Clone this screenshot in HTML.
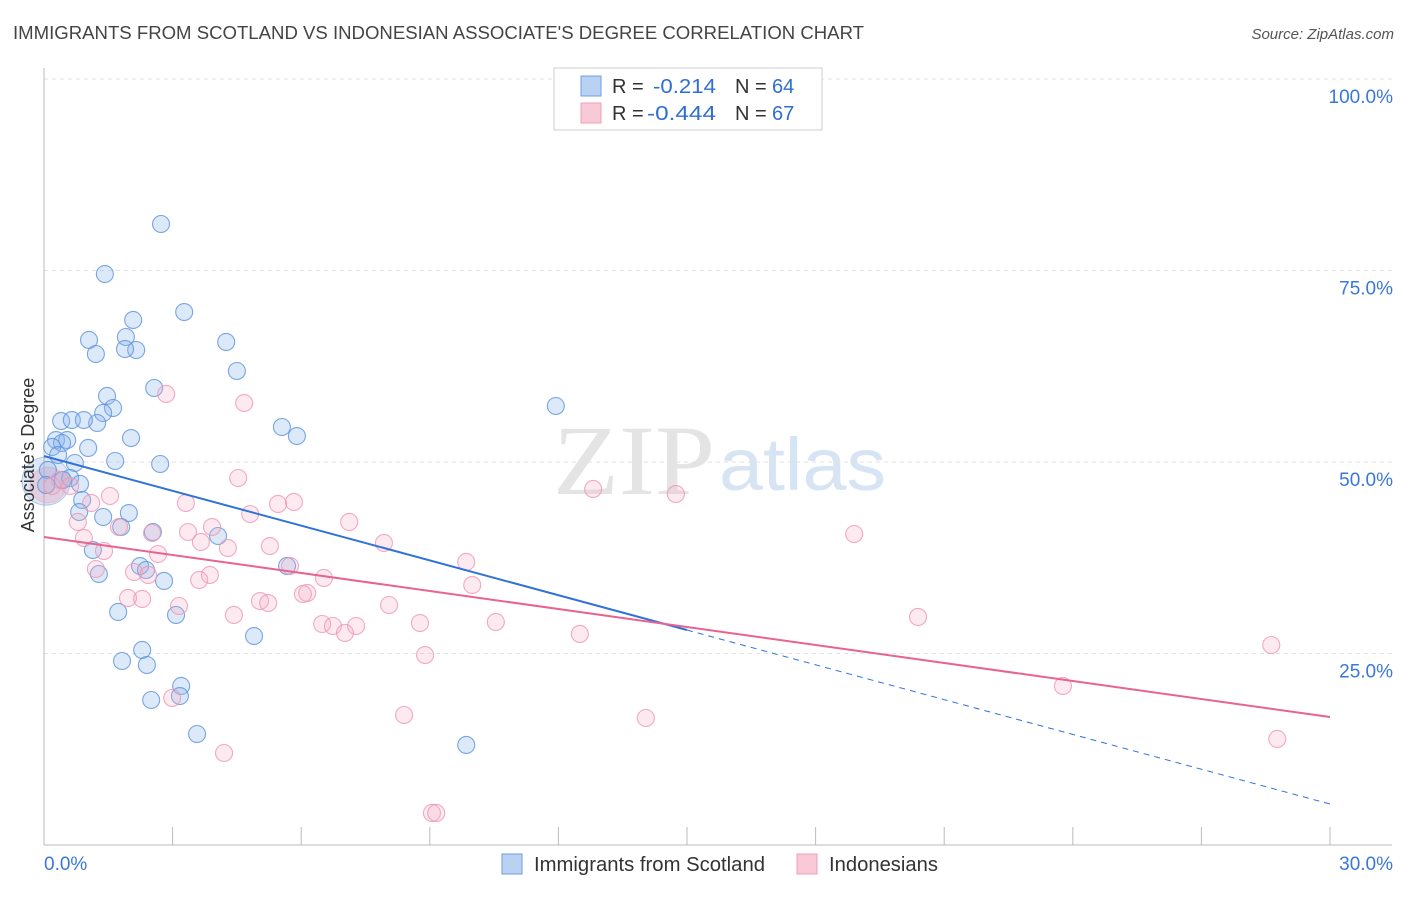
<!DOCTYPE html>
<html><head><meta charset="utf-8"><style>
body{margin:0;background:#fff;font-family:"Liberation Sans",sans-serif;}
</style></head><body>
<svg id="chart" width="1406" height="892" xmlns="http://www.w3.org/2000/svg" font-family="Liberation Sans, sans-serif">
<text x="13" y="39" font-size="18" fill="#444" textLength="851" lengthAdjust="spacingAndGlyphs">IMMIGRANTS FROM SCOTLAND VS INDONESIAN ASSOCIATE'S DEGREE CORRELATION CHART</text>
<text x="1394" y="39" font-size="15" fill="#555" font-style="italic" text-anchor="end">Source: ZipAtlas.com</text>
<text x="553" y="494" font-size="100" font-family="Liberation Serif, serif" fill="#e4e4e4" textLength="162" lengthAdjust="spacingAndGlyphs">ZIP</text>
<text x="719" y="490" font-size="74" fill="#d6e4f4" textLength="167" lengthAdjust="spacingAndGlyphs">atlas</text>
<g id="grid"></g>
<g id="axes"></g>
<g id="marks"></g>
<g id="lines"></g>
<text transform="translate(34,455) rotate(-90)" font-size="18" fill="#333" text-anchor="middle">Associate's Degree</text>
<g>
<rect x="554" y="68" width="268" height="62" fill="#fff" stroke="#ccc"/>
<rect x="581" y="76" width="20" height="20" fill="#b9d1f3" stroke="#6fa0e0"/>
<rect x="581" y="103" width="20" height="20" fill="#f8c9d7" stroke="#f0a0b8"/>
<text x="612" y="93" font-size="20" fill="#333">R =</text>
<text x="653" y="93" font-size="20" fill="#2f6fd1" textLength="63" lengthAdjust="spacingAndGlyphs">-0.214</text>
<text x="735" y="93" font-size="20" fill="#333">N =</text>
<text x="772" y="93" font-size="20" fill="#2f6fd1">64</text>
<text x="612" y="120" font-size="20" fill="#333">R =</text>
<text x="647" y="120" font-size="20" fill="#2f6fd1" textLength="69" lengthAdjust="spacingAndGlyphs">-0.444</text>
<text x="735" y="120" font-size="20" fill="#333">N =</text>
<text x="772" y="120" font-size="20" fill="#2f6fd1">67</text>
</g>
<g>
<rect x="502" y="854" width="20" height="20" fill="#b9d1f3" stroke="#6fa0e0"/>
<text x="534" y="871" font-size="20" fill="#333" textLength="231" lengthAdjust="spacingAndGlyphs">Immigrants from Scotland</text>
<rect x="797" y="854" width="20" height="20" fill="#f8c9d7" stroke="#f0a0b8"/>
<text x="829" y="871" font-size="20" fill="#333" textLength="109" lengthAdjust="spacingAndGlyphs">Indonesians</text>
</g>
</svg>
<script>
const blueX=[2.73,1.42,3.27,2.08,1.05,1.91,1.21,2.15,1.89,4.25,4.50,2.57,1.47,1.61,1.38,1.24,0.40,0.65,0.93,5.55,5.90,2.03,0.28,0.54,0.42,0.19,1.03,0.33,1.66,0.72,2.71,11.94,0.61,0.84,0.44,0.89,0.82,1.38,1.98,2.54,4.06,1.80,1.14,5.67,2.24,2.38,2.80,1.28,1.73,3.08,4.90,2.29,1.82,2.40,3.20,3.17,2.50,3.57,9.85,0.09,0.05];
const blueY=[81.07,74.54,69.58,68.54,65.93,66.32,64.10,64.62,64.75,65.67,61.88,59.66,58.62,57.05,56.40,55.09,55.35,55.48,55.48,54.57,53.39,53.13,52.87,52.87,52.48,51.96,51.83,50.91,50.13,49.87,49.74,57.31,47.91,47.13,47.65,45.04,43.47,42.82,43.34,40.86,40.34,41.51,38.51,36.42,36.42,35.90,34.47,35.38,30.42,30.03,27.28,25.46,24.02,23.50,20.76,19.45,18.93,14.49,13.06,48.96,47.0];
const pinkX=[2.85,4.67,4.53,12.81,14.74,1.54,1.10,3.31,5.83,5.46,7.12,4.81,18.90,1.75,0.79,2.52,3.36,3.92,0.93,3.66,5.27,4.29,7.93,1.40,2.66,9.85,5.74,1.21,2.10,2.43,3.87,3.62,6.53,9.99,1.96,2.29,5.04,5.23,3.15,6.14,6.04,8.05,4.43,20.39,6.49,6.74,7.28,7.02,8.77,10.54,12.50,28.63,8.89,23.77,2.99,8.40,14.04,4.20,28.77,9.05,9.15,0.37,0.61,0.19];
const pinkY=[58.88,57.70,47.91,46.48,45.82,45.56,44.65,44.65,44.78,44.52,42.17,43.21,40.60,41.51,42.17,40.73,40.86,41.51,40.08,39.56,39.03,38.77,39.43,38.38,37.99,36.95,36.42,36.03,35.64,35.25,35.25,34.60,34.86,33.94,32.25,32.12,31.85,31.59,31.20,32.90,32.77,31.33,30.03,29.77,28.85,28.59,28.59,27.68,28.98,29.11,27.55,26.11,24.80,20.76,19.19,16.97,16.58,12.01,13.84,4.18,4.18,47.65,46.87,46.87];
const yTicks=[25,50,75,100];
const yTickLabels=["25.0%","50.0%","75.0%","100.0%"];
const xTickLabels=["0.0%","30.0%"];
const blueTrend=[50.78,5.35];
const blueSolidEnd=15;
const pinkTrend=[40.21,16.71];
const X0=44,X1=1330,Y0=845,Y1=79;
const sx=v=>X0+(v/30)*(X1-X0);
const sy=v=>Y0-(v/100)*(Y0-Y1);
const NS="http://www.w3.org/2000/svg";
function mk(parent,tag,attrs){const e=document.createElementNS(NS,tag);for(const k in attrs)e.setAttribute(k,attrs[k]);parent.appendChild(e);return e;}
const grid=document.getElementById('grid'),axes=document.getElementById('axes'),marks=document.getElementById('marks'),lines=document.getElementById('lines');
yTicks.forEach((t,i)=>{
  const l=mk(grid,'line',{x1:X0,x2:1392,y1:sy(t),y2:sy(t),stroke:'#e2e2e2','stroke-dasharray':'4,4'});
  
  
  const tx=mk(axes,'text',{x:1393,y:sy(t)+24,'font-size':19,fill:'#3a78d8','text-anchor':'end'});
  tx.textContent=yTickLabels[i];
  
  
});
const ya=mk(axes,'line',{x1:X0,x2:X0,y1:68,y2:Y0,stroke:'#bbb'});


const xa=mk(axes,'line',{x1:X0,x2:1392,y1:Y0,y2:Y0,stroke:'#bbb'});


for(let i=1;i<=10;i++){
  const t=mk(axes,'line',{x1:sx(i*3),x2:sx(i*3),y1:Y0,y2:827,stroke:'#bbb'});
  
  
}
[[0,'start',X0],[30,'end',1393]].forEach((a,i)=>{
  const tx=mk(axes,'text',{x:a[2],y:870,'font-size':19,fill:'#3a78d8','text-anchor':a[1]});
  tx.textContent=xTickLabels[i];
  
  
});
const big1=mk(marks,'circle',{cx:X0+2,cy:sy(47.5),r:24,fill:'rgba(120,165,225,0.25)',stroke:'rgba(111,160,224,0.5)'});


const big2=mk(marks,'circle',{cx:X0+4,cy:sy(47),r:18,fill:'rgba(235,150,175,0.3)',stroke:'rgba(240,160,184,0.5)'});


blueX.forEach((x,i)=>{
  const c=mk(marks,'circle',{cx:sx(x),cy:sy(blueY[i]),r:8.5,fill:'rgba(140,182,236,0.3)',stroke:'rgba(90,145,220,0.8)','stroke-width':1.1});
  
  
});
pinkX.forEach((x,i)=>{
  const c=mk(marks,'circle',{cx:sx(x),cy:sy(pinkY[i]),r:8.5,fill:'rgba(245,170,195,0.25)',stroke:'rgba(238,150,178,0.8)','stroke-width':1.1});
  
  
});
const bAt=x=>blueTrend[0]+(blueTrend[1]-blueTrend[0])*x/30;
const bl=mk(lines,'line',{x1:sx(0),y1:sy(bAt(0)),x2:sx(blueSolidEnd),y2:sy(bAt(blueSolidEnd)),stroke:'#2f72d8','stroke-width':2});


const bd=mk(lines,'line',{x1:sx(blueSolidEnd),y1:sy(bAt(blueSolidEnd)),x2:sx(30),y2:sy(bAt(30)),stroke:'#2f72d8','stroke-width':1,'stroke-dasharray':'6,5'});


const pl=mk(lines,'line',{x1:sx(0),y1:sy(pinkTrend[0]),x2:sx(30),y2:sy(pinkTrend[1]),stroke:'#e8638f','stroke-width':2});


</script>
</body></html>
